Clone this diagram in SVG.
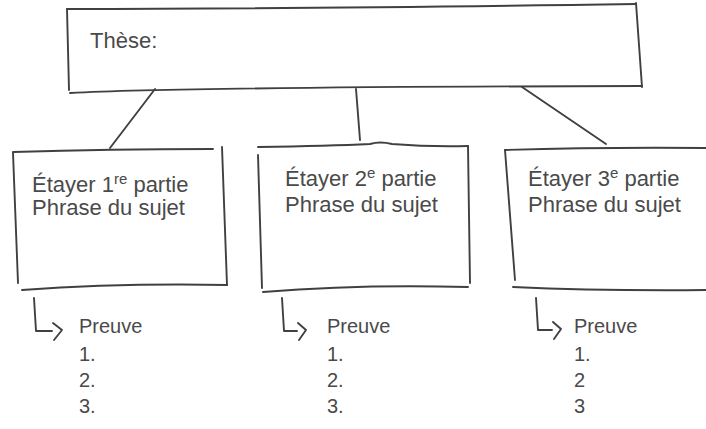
<svg xmlns="http://www.w3.org/2000/svg" width="706" height="429" viewBox="0 0 706 429">
<style>
.ln{fill:none;stroke:#404040;stroke-width:1.9;stroke-linecap:round;stroke-linejoin:round}
.t{font-family:"Liberation Sans",Arial,sans-serif;font-size:22px;fill:#4a4a4a}
.p{font-family:"Liberation Sans",Arial,sans-serif;font-size:20px;fill:#4a4a4a}
.sup{font-size:15px}
</style>
<rect width="706" height="429" fill="#ffffff"/>
<g id="these">
<path class="ln" d="M67,9 Q300,9 636,4"/>
<path class="ln" d="M636,3 L642,87"/>
<path class="ln" d="M67,9 L69,90"/>
<path class="ln" d="M70,93 Q180,87 642,86"/>
<text class="t" x="90" y="48">Thèse:</text>
</g>
<g id="connectors">
<path class="ln" d="M155,89 L110,148"/>
<path class="ln" d="M356,89 L360,140"/>
<path class="ln" d="M522,87 L606,144"/>
</g>
<g id="partie1">
<path class="ln" d="M13,152 Q110,149 213,149"/>
<path class="ln" d="M222,147 L227,285"/>
<path class="ln" d="M13,153 L18,283"/>
<path class="ln" d="M22,290 Q120,283 227,285"/>
<text class="t" x="32" y="192">Étayer 1<tspan class="sup" dy="-8">re</tspan><tspan dy="8"> partie</tspan></text>
<text class="t" x="32" y="215">Phrase du sujet</text>
<path class="ln" d="M34,298 L36,331 L52,331"/>
<path class="ln" d="M53,323 L62,330 L54,340"/>
<text class="p" x="79" y="333">Preuve</text>
<text class="p" x="79" y="361">1.</text>
<text class="p" x="79" y="387">2.</text>
<text class="p" x="79" y="413">3.</text>
</g>
<g id="partie2">
<path class="ln" d="M258,147 Q330,146 370,144 Q380,141 392,144 Q430,147 468,146"/>
<path class="ln" d="M468,146 L470,283"/>
<path class="ln" d="M258,155 L262,288"/>
<path class="ln" d="M263,292 Q360,284 468,287"/>
<text class="t" x="285" y="186">Étayer 2<tspan class="sup" dy="-8">e</tspan><tspan dy="8"> partie</tspan></text>
<text class="t" x="285" y="212">Phrase du sujet</text>
<path class="ln" d="M282,298 L284,331 L297,331"/>
<path class="ln" d="M298,323 L306,330 L299,340"/>
<text class="p" x="327" y="333">Preuve</text>
<text class="p" x="327" y="361">1.</text>
<text class="p" x="327" y="387">2.</text>
<text class="p" x="327" y="413">3.</text>
</g>
<g id="partie3">
<path class="ln" d="M505,150 Q600,147 708,148"/>
<path class="ln" d="M505,150 L515,280"/>
<path class="ln" d="M513,287 Q600,291 708,290"/>
<text class="t" x="528" y="186">Étayer 3<tspan class="sup" dy="-8">e</tspan><tspan dy="8"> partie</tspan></text>
<text class="t" x="528" y="212">Phrase du sujet</text>
<path class="ln" d="M536,298 L538,330 L552,330"/>
<path class="ln" d="M553,322 L561,329 L554,339"/>
<text class="p" x="574" y="333">Preuve</text>
<text class="p" x="574" y="361">1.</text>
<text class="p" x="574" y="387">2</text>
<text class="p" x="574" y="413">3</text>
</g>
</svg>
